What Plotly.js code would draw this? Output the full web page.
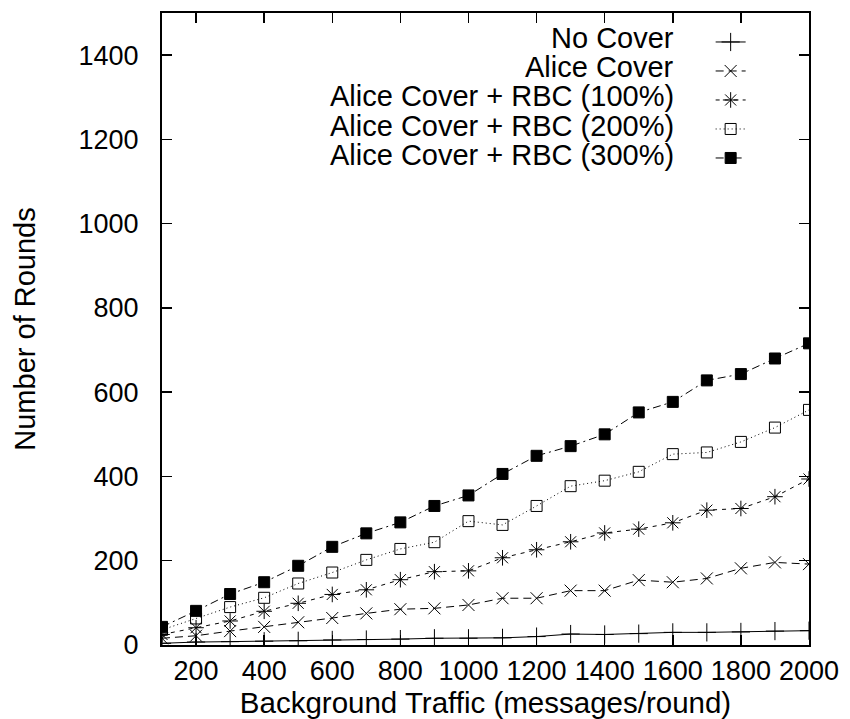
<!DOCTYPE html>
<html>
<head>
<meta charset="utf-8">
<script src="https://cdn.plot.ly/plotly-3.0.1.min.js"></script>
<style>html,body{margin:0;padding:0;background:#fff;}#chart{width:850px;height:719px;}</style>
</head>
<body>
<div id="chart"></div>
<script>
// ---- data ----
const traffic = [100,200,300,400,500,600,700,800,900,1000,1100,1200,1300,1400,1500,1600,1700,1800,1900,2000];
const seriesNames = ["No Cover","Alice Cover","Alice Cover + RBC (100%)","Alice Cover + RBC (200%)","Alice Cover + RBC (300%)"];
const noCover   = [4,7,8,9,10,12,13,14,16,16,17,20,26,25,27,30,30,31,33,34];
const aliceCover= [16,22,33,43,54,64,75,85,87,95,111,111,129,129,154,149,158,182,196,192];
const rbc100    = [25,41,57,80,99,120,131,155,174,176,207,226,245,266,275,290,320,324,352,394];
const rbc200    = [36,63,90,112,146,172,202,228,244,294,285,330,377,390,411,453,457,482,516,558];
const rbc300    = [43,81,121,149,188,233,265,291,330,355,406,449,472,500,552,577,628,643,680,716];
const xTicks = [200,400,600,800,1000,1200,1400,1600,1800,2000];
const yTicks = [0,200,400,600,800,1000,1200,1400];
const xTitle = "Background Traffic (messages/round)";
const yTitle = "Number of Rounds";

const values = [noCover, aliceCover, rbc100, rbc200, rbc300];
const styles = [
  {dash:"solid", symbol:"cross-thin-open", size:13},
  {dash:"8px,5px", symbol:"x-thin-open", size:12},
  {dash:"4px,5px", symbol:"asterisk-open", size:13},
  {dash:"1px,3px", symbol:"square-open", size:11},
  {dash:"8px,4px,2px,4px", symbol:"square", size:11}
];
const FONT = "Liberation Sans, Arial, Helvetica, sans-serif";

const traces = values.map((v,i)=>({
  x: traffic, y: v, type:"scatter", mode:"lines+markers",
  name: "", legendrank: i+1,
  line:{color:"#000", width:1, dash:styles[i].dash},
  marker:{symbol:styles[i].symbol, size:styles[i].size, color:"#000",
          line:{color:"#000", width:1}},
  hoverinfo:"x+y"
}));

// legend text labels (right-aligned before the samples, gnuplot style)
const rowY0 = 0.961, rowDy = 0.0465;
const annotations = seriesNames.map((t,i)=>({
  text:t, xref:"paper", yref:"paper", x:0.795, y:rowY0 - i*rowDy,
  xanchor:"right", yanchor:"middle", showarrow:false,
  font:{family:FONT, size:29, color:"#000"}
}));

const axisCommon = {
  showline:true, linecolor:"#000", linewidth:2, mirror:"ticks",
  ticks:"inside", ticklen:10, tickwidth:1.5, tickcolor:"#000",
  showgrid:false, zeroline:false,
  tickfont:{family:FONT, size:27, color:"#000"}
};

const layout = {
  width:850, height:719,
  margin:{l:162, r:41, t:13, b:74, pad:0},
  paper_bgcolor:"#fff", plot_bgcolor:"#fff",
  showlegend:true,
  legend:{x:0.848, y:0.985, xanchor:"left", yanchor:"top",
          font:{family:FONT, size:20, color:"#000"},
          bgcolor:"rgba(0,0,0,0)", borderwidth:0, traceorder:"normal"},
  xaxis:Object.assign({}, axisCommon, {
    range:[100,2000], tickmode:"array", tickvals:xTicks, ticktext:xTicks.map(String),
    ticklabelstandoff:1,
    title:{text:xTitle, font:{family:FONT, size:29.5, color:"#000"}, standoff:5}
  }),
  yaxis:Object.assign({}, axisCommon, {
    range:[0,1500], tickmode:"array", tickvals:yTicks, ticktext:yTicks.map(String),
    ticklabelstandoff:16,
    title:{text:yTitle, font:{family:FONT, size:29, color:"#000"}, standoff:34}
  }),
  annotations:annotations
};

Plotly.newPlot("chart", traces, layout, {displayModeBar:false, staticPlot:true});
</script>
</body>
</html>
